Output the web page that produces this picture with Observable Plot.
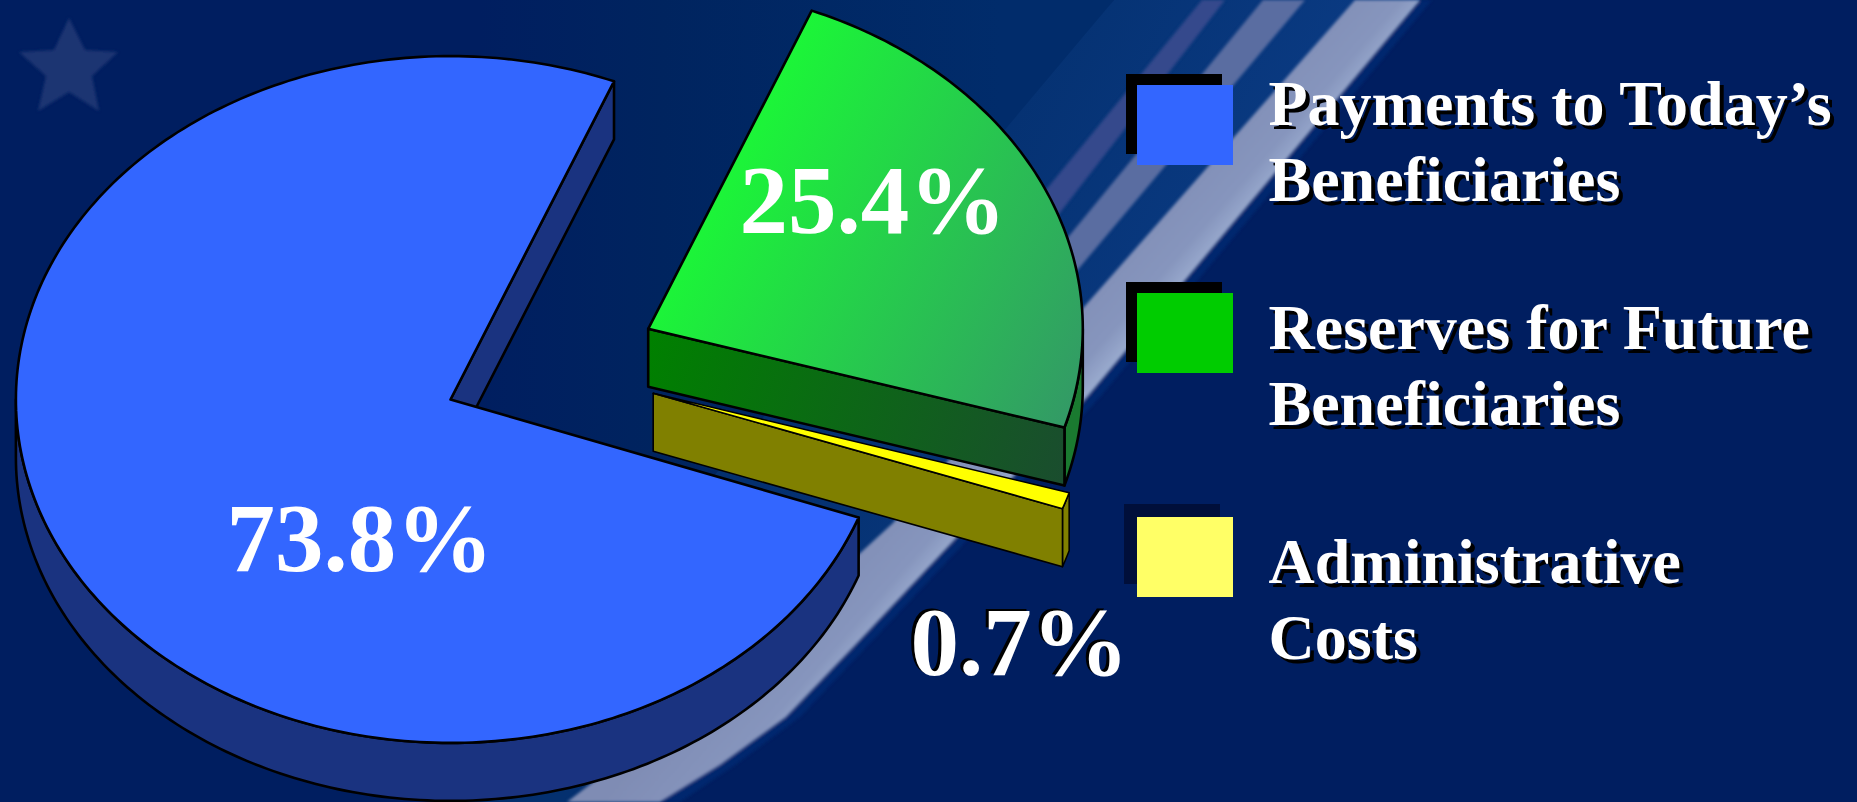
<!DOCTYPE html>
<html>
<head>
<meta charset="utf-8">
<script src="https://cdn.jsdelivr.net/npm/d3@7"></script>
<script src="https://cdn.jsdelivr.net/npm/@observablehq/plot@0.6"></script>
<style>
  html, body { margin: 0; padding: 0; background: #001e60; overflow: hidden; }
  #stage { position: relative; width: 1857px; height: 802px; overflow: hidden; }
  #backdrop, #stage > svg.chart { position: absolute; left: 0; top: 0; }
</style>
</head>
<body>
<div id="stage">
  <!-- decorative slide template behind the chart -->
  <svg id="backdrop" width="1857" height="802" viewBox="0 0 1857 802">
    <defs>
      <linearGradient id="bandA" gradientUnits="userSpaceOnUse" x1="480" y1="0" x2="1000" y2="0">
        <stop offset="0" stop-color="#001e60"/><stop offset="0.35" stop-color="#00245f"/><stop offset="1" stop-color="#012c6b"/>
      </linearGradient>
      <linearGradient id="bandB" gradientUnits="userSpaceOnUse" x1="1000" y1="0" x2="1300" y2="150">
        <stop offset="0" stop-color="#04306f"/><stop offset="1" stop-color="#0a3a82"/>
      </linearGradient>
      <linearGradient id="mainStripe" gradientUnits="userSpaceOnUse" x1="1040" y1="300" x2="1120" y2="370">
        <stop offset="0" stop-color="#7f8cb4"/><stop offset="0.7" stop-color="#8695bd"/><stop offset="1" stop-color="#a0b2d4"/>
      </linearGradient>
      <filter id="soft" x="-5%" y="-5%" width="110%" height="110%"><feGaussianBlur stdDeviation="1.4"/></filter>
    </defs>
    <rect width="1857" height="802" fill="#001e60"/>
    <polygon fill="url(#bandA)" points="480,0 1114,0 500,802 300,802"/>
    <polygon fill="url(#bandB)" points="1114,0 1420,0 660,802 440,802"/>
    <g filter="url(#soft)">
      <polygon fill="#34498c" points="1202,0 1225,0 1000,290 980,270"/>
      <polygon fill="#5a6da1" points="1263,0 1305,0 1000,362 1000,320"/>
      <polygon fill="url(#mainStripe)" points="1355,0 1420,0 1087,397 957,537 860,640 786,717 720,765 660,802 567,802 700,700 893,523 1084,307"/>
      <polygon fill="#0a2f78" opacity="0.6" points="1420,0 1432,0 1100,397 970,537 873,640 800,717 735,765 680,802 660,802 720,765 786,717 860,640 957,537 1087,397"/>
      <polygon fill="#1b3672" points="69,18 85,50 118,52 92,76 99,111 69,92 38,111 46,76 19,52 54,50"/>
    </g>
  </svg>
</div>
<script>
// ---- Values ----
const categories = ["Payments to Today’s Beneficiaries", "Reserves for Future Beneficiaries", "Administrative Costs"];
const shareLabels = ["73.8%", "25.4%", "0.7%"];
// Angular extent of each slice as drawn (degrees clockwise from north, in the un-tilted disc)
const sliceFrom = [110.1, 22.1, 106.85];
const sliceTo   = [382.1, 106.7, 109.65];

const legendLines = ["Payments to Today’s", "Beneficiaries", "Reserves for Future", "Beneficiaries", "Administrative", "Costs"];

// ---- Layout and style ----
const W = 1857, H = 802;
const rx = 434.6, ry = 343.4, depth = 58;
const apex = [[450, 399], [647.7, 328.3], [652.7, 392.7]];
const serif = "'Liberation Serif','Times New Roman',serif";
const lineW = 2.6;

const pt = (i, deg, dz = 0) => {
  const a = deg * Math.PI / 180;
  return {x: apex[i][0] + rx * Math.sin(a), y: apex[i][1] - ry * Math.cos(a) + dz};
};
const arc = (i, from, to, dz = 0) => {
  const n = Math.max(2, Math.ceil(Math.abs(to - from)));
  return d3.range(n + 1).map(k => pt(i, from + (to - from) * k / n, dz));
};
const face = i => [{x: apex[i][0], y: apex[i][1]}, ...arc(i, sliceFrom[i], sliceTo[i])];
// Rim wall between two angles
const rim = (i, a, b) => [...arc(i, a, b), ...arc(i, b, a, depth)];
// Flat cut wall running from the apex to the rim at angle a
const cut = (i, a) => {
  const p = pt(i, a), o = {x: apex[i][0], y: apex[i][1]};
  return [o, p, {x: p.x, y: p.y + depth}, {x: o.x, y: o.y + depth}];
};

const poly = (pts, fill, sw = lineW) => Plot.line(pts, {
  x: "x", y: "y", curve: "linear-closed", fill,
  stroke: "black", strokeWidth: sw, strokeLinejoin: "round"
});

const defs = () => {
  const s = d3.create("svg:defs");
  const g1 = s.append("linearGradient").attr("id", "greenTop").attr("gradientUnits", "userSpaceOnUse")
    .attr("x1", 660).attr("y1", 200).attr("x2", 1070).attr("y2", 420);
  g1.append("stop").attr("offset", 0).attr("stop-color", "#19ff33");
  g1.append("stop").attr("offset", 1).attr("stop-color", "#339966");
  const g2 = s.append("linearGradient").attr("id", "greenWall").attr("gradientUnits", "userSpaceOnUse")
    .attr("x1", 650).attr("y1", 340).attr("x2", 1060).attr("y2", 480);
  g2.append("stop").attr("offset", 0).attr("stop-color", "#008000");
  g2.append("stop").attr("offset", 1).attr("stop-color", "#1a4d2e");
  return s.node();
};

// Legend swatches
const legend = categories.map((name, i) => ({
  name,
  x1: 1137, x2: 1233,
  y1: [85, 293, 517][i], y2: [165, 373, 597][i],
  fill: ["#3366ff", "#00cc00", "#ffff66"][i],
  sx: [11, 11, 13][i],
  shadow: ["#000000", "#000000", "#000f3a"][i]
}));
const legendText = legendLines.map((t, i) => ({t, x: 1268, y: [124, 200, 348, 424, 582, 658][i]}));
const pctText = shareLabels.map((t, i) => ({t, x: [226, 739, 910][i], y: [570, 232, 674][i]}));

const textOpts = (size, extra = {}) => ({
  x: "x", y: "y", text: "t", textAnchor: "start", lineAnchor: "bottom",
  fontFamily: serif, fontWeight: "bold", fontSize: size, fill: "white", ...extra
});

const chart = Plot.plot({
  width: W, height: H,
  margin: 0,
  style: {background: "transparent", overflow: "visible"},
  x: {domain: [0, W], range: [0, W], axis: null},
  y: {domain: [0, H], range: [0, H], axis: null},
  color: {type: "identity"},
  marks: [
    defs,
    // Reserves slice
    poly(rim(1, 90, sliceTo[1]), "#1a7a30"),
    poly(cut(1, sliceTo[1]), "url(#greenWall)"),
    poly(face(1), "url(#greenTop)"),
    // Administrative slice
    poly(rim(2, sliceFrom[2], sliceTo[2]), "#808000", 1.5),
    poly(cut(2, sliceTo[2]), "#808000", 1.6),
    poly(face(2), "#ffff00", 1.6),
    // Payments slice
    poly(rim(0, sliceFrom[0], 270), "#1a3380"),
    poly(cut(0, sliceTo[0] - 360), "#1a3380"),
    poly(face(0), "#3366ff"),
    // Legend
    Plot.rect(legend, {x1: d => d.x1 - d.sx, x2: d => d.x2 - d.sx, y1: d => d.y1 - d.sx, y2: d => d.y2 - d.sx, fill: d => d.shadow, inset: 0}),
    Plot.rect(legend, {x1: "x1", x2: "x2", y1: "y1", y2: "y2", fill: "fill", inset: 0}),
    Plot.text(legendText, textOpts(64, {imageFilter: "drop-shadow(4px 4px 0 black)"})),
    // Percent labels
    Plot.text(pctText.slice(0, 2), textOpts(97)),
    Plot.text(pctText.slice(2), textOpts(97, {imageFilter: "drop-shadow(-3px -2px 0 black)"}))
  ]
});
chart.classList.add("chart");
document.getElementById("stage").appendChild(chart);
</script>
</body>
</html>
